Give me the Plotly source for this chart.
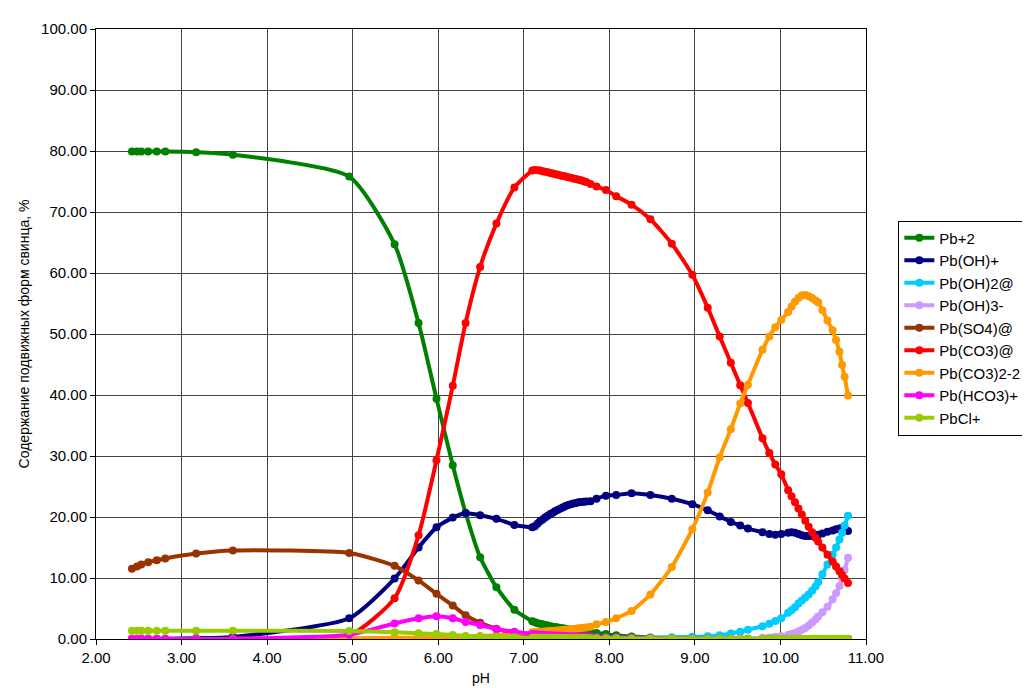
import plotly.graph_objects as go

ph = [2.42, 2.48, 2.53, 2.61, 2.71, 2.81, 3.17, 3.60, 4.96,
      5.49, 5.77, 5.98, 6.17, 6.32, 6.49, 6.68, 6.89, 7.10,
      7.13, 7.16, 7.19, 7.22, 7.25, 7.28, 7.31, 7.34, 7.37, 7.40, 7.43, 7.46, 7.49, 7.52, 7.55, 7.58, 7.61, 7.64, 7.67, 7.70, 7.73,
      7.78, 7.85, 7.96, 8.08, 8.26, 8.48, 8.73, 8.97, 9.15, 9.29, 9.42, 9.53, 9.62, 9.79, 9.87, 9.94, 10.01,
      10.09, 10.13, 10.17, 10.21, 10.25, 10.29, 10.33, 10.37, 10.41, 10.44, 10.49, 10.55, 10.61, 10.65, 10.69, 10.72, 10.75, 10.79]

pb2 = [79.9, 79.9, 79.9, 79.9, 79.9, 79.9, 79.8, 79.4, 75.8,
       64.7, 51.8, 39.4, 28.5, 20.7, 13.4, 8.5, 4.8, 2.9,
       2.75, 2.6, 2.5, 2.4, 2.3, 2.2, 2.1, 2.0, 1.95, 1.9, 1.8, 1.75, 1.7, 1.6, 1.55, 1.5, 1.45, 1.4, 1.35, 1.3, 1.25,
       1.15, 1.0, 0.8, 0.6, 0.4, 0.25, 0.15, 0.1, 0.07, 0.05, 0.04, 0.03, 0.02, 0.01, 0.01, 0.01, 0.01,
       0.01, 0.01, 0.01, 0.01, 0.01, 0.01, 0.01, 0.01, 0.01, 0.01, 0.01, 0.01, 0.01, 0.01, 0.01, 0.01, 0.01, 0.01]

pboh = [0.02, 0.02, 0.03, 0.03, 0.04, 0.05, 0.13, 0.35, 3.4,
        9.9, 15.0, 18.3, 19.9, 20.6, 20.3, 19.7, 18.7, 18.3,
        18.5, 18.9, 19.3, 19.6, 19.9, 20.2, 20.5, 20.7, 21.0, 21.2, 21.4, 21.6, 21.8, 21.95, 22.1, 22.2, 22.3, 22.4, 22.45, 22.5, 22.55,
        22.6, 23.0, 23.5, 23.6, 23.9, 23.6, 23.0, 22.1, 21.1, 20.1, 19.2, 18.6, 18.1, 17.5, 17.2, 17.1, 17.2,
        17.4, 17.5, 17.4, 17.2, 17.0, 16.9, 16.9, 16.9, 17.0, 17.1, 17.3, 17.6, 17.8, 18.0, 18.1, 18.2, 18.1, 17.7]

pboh2 = [0.0, 0.0, 0.0, 0.0, 0.0, 0.0, 0.0, 0.0, 0.0,
         0.0, 0.0, 0.01, 0.01, 0.01, 0.02, 0.02, 0.03, 0.04,
         0.04, 0.04, 0.04, 0.04, 0.05, 0.05, 0.05, 0.05, 0.05, 0.05, 0.06, 0.06, 0.06, 0.06, 0.06, 0.07, 0.07, 0.07, 0.07, 0.08, 0.08,
         0.08, 0.09, 0.1, 0.12, 0.15, 0.2, 0.28, 0.35, 0.45, 0.6, 0.9, 1.2, 1.5, 2.1, 2.5, 2.95, 3.4,
         4.3, 4.7, 5.2, 5.8, 6.3, 6.8, 7.3, 7.9, 8.6, 9.3, 10.6, 12.2, 13.8, 15.0, 16.3, 17.4, 18.6, 20.2]

pboh3 = [0.0, 0.0, 0.0, 0.0, 0.0, 0.0, 0.0, 0.0, 0.0,
         0.0, 0.0, 0.0, 0.0, 0.0, 0.0, 0.0, 0.0, 0.0,
         0.0, 0.0, 0.0, 0.0, 0.0, 0.0, 0.0, 0.0, 0.0, 0.0, 0.0, 0.0, 0.0, 0.0, 0.0, 0.0, 0.0, 0.0, 0.0, 0.0, 0.0,
         0.0, 0.0, 0.0, 0.0, 0.0, 0.0, 0.0, 0.01, 0.02, 0.03, 0.05, 0.08, 0.1, 0.2, 0.25, 0.35, 0.45,
         0.65, 0.8, 1.0, 1.25, 1.5, 1.8, 2.2, 2.7, 3.2, 3.7, 4.4, 5.3, 6.5, 7.5, 8.7, 10.0, 11.3, 13.3]

pbso4 = [11.5, 11.9, 12.2, 12.6, 12.9, 13.2, 14.0, 14.5, 14.1,
         12.0, 9.6, 7.4, 5.5, 3.9, 2.65, 1.7, 1.0, 0.6,
         0.57, 0.54, 0.51, 0.49, 0.46, 0.44, 0.42, 0.40, 0.38, 0.36, 0.35, 0.33, 0.32, 0.30, 0.29, 0.28, 0.27, 0.26, 0.25, 0.24, 0.23,
         0.22, 0.2, 0.17, 0.14, 0.1, 0.07, 0.05, 0.03, 0.02, 0.01, 0.01, 0.01, 0.0, 0.0, 0.0, 0.0, 0.0,
         0.0, 0.0, 0.0, 0.0, 0.0, 0.0, 0.0, 0.0, 0.0, 0.0, 0.0, 0.0, 0.0, 0.0, 0.0, 0.0, 0.0, 0.0]

pbco3 = [0.0, 0.0, 0.0, 0.0, 0.0, 0.0, 0.0, 0.02, 0.6,
         6.7, 17.0, 29.3, 41.5, 51.8, 61.0, 68.1, 74.0, 76.8,
         76.9, 76.85, 76.8, 76.7, 76.6, 76.5, 76.4, 76.3, 76.2, 76.1, 76.0, 75.9, 75.8, 75.7, 75.6, 75.5, 75.4, 75.3, 75.2, 75.05, 74.9,
         74.6, 74.2, 73.6, 72.6, 71.2, 68.8, 64.8, 59.7, 54.3, 49.6, 45.3, 41.6, 38.7, 32.9, 30.5, 28.6, 27.0,
         24.4, 23.4, 22.4, 21.4, 20.4, 19.4, 18.4, 17.5, 16.6, 16.0, 15.0, 13.8, 12.7, 11.9, 11.1, 10.5, 9.9, 9.2]

pbco32 = [0.0, 0.0, 0.0, 0.0, 0.0, 0.0, 0.0, 0.01, 0.1,
          0.2, 0.25, 0.3, 0.35, 0.4, 0.5, 0.6, 0.8, 1.1,
          1.12, 1.15, 1.18, 1.2, 1.23, 1.26, 1.3, 1.33, 1.37, 1.4, 1.44, 1.48, 1.52, 1.56, 1.6, 1.65, 1.7, 1.75, 1.8, 1.85, 1.9,
          2.0, 2.4, 2.8, 3.4, 4.6, 7.3, 11.8, 18.0, 24.0, 29.8, 34.4, 38.6, 41.7, 47.4, 49.6, 51.1, 52.3,
          53.6, 54.5, 55.3, 55.9, 56.3, 56.4, 56.2, 55.9, 55.5, 55.2, 53.9, 52.2, 50.6, 49.0, 47.1, 44.9, 43.0, 39.9]

pbhco3 = [0.0, 0.0, 0.0, 0.0, 0.0, 0.0, 0.01, 0.05, 0.7,
          2.55, 3.4, 3.75, 3.4, 2.8, 2.3, 1.6, 1.2, 0.8,
          0.77, 0.74, 0.71, 0.68, 0.66, 0.63, 0.61, 0.59, 0.57, 0.55, 0.53, 0.51, 0.49, 0.47, 0.46, 0.44, 0.43, 0.41, 0.40, 0.39, 0.38,
          0.36, 0.33, 0.3, 0.26, 0.2, 0.15, 0.1, 0.07, 0.05, 0.04, 0.03, 0.02, 0.02, 0.01, 0.01, 0.01, 0.01,
          0.01, 0.01, 0.01, 0.01, 0.01, 0.01, 0.01, 0.01, 0.01, 0.01, 0.01, 0.01, 0.01, 0.01, 0.01, 0.01, 0.01, 0.01]

pbcl = [1.35, 1.35, 1.35, 1.35, 1.35, 1.35, 1.35, 1.35, 1.3,
        1.1, 0.95, 0.8, 0.65, 0.5, 0.4, 0.35, 0.28, 0.22,
        0.21, 0.21, 0.2, 0.2, 0.2, 0.19, 0.19, 0.19, 0.18, 0.18, 0.18, 0.17, 0.17, 0.17, 0.16, 0.16, 0.16, 0.15, 0.15, 0.15, 0.15,
        0.14, 0.13, 0.12, 0.11, 0.1, 0.08, 0.07, 0.06, 0.05, 0.05, 0.04, 0.04, 0.04, 0.03, 0.03, 0.03, 0.03,
        0.03, 0.03, 0.03, 0.03, 0.03, 0.03, 0.03, 0.03, 0.03, 0.03, 0.03, 0.03, 0.03, 0.03, 0.03, 0.03, 0.03, 0.03]

names = ["Pb+2", "Pb(OH)+", "Pb(OH)2@", "Pb(OH)3-", "Pb(SO4)@",
         "Pb(CO3)@", "Pb(CO3)2-2", "Pb(HCO3)+", "PbCl+"]
series = [pb2, pboh, pboh2, pboh3, pbso4, pbco3, pbco32, pbhco3, pbcl]
colors = ["#008000", "#000080", "#00CCFF", "#CC99FF", "#993300",
          "#FF0000", "#FF9900", "#FF00FF", "#99CC00"]

fig = go.Figure()
for n, s, c in zip(names, series, colors):
    fig.add_trace(go.Scatter(
        x=ph, y=s, name=n, mode="lines+markers",
        line=dict(color=c, width=4, shape="spline", smoothing=0.6),
        marker=dict(color=c, size=8),
    ))

font = "Liberation Sans, Arial, sans-serif"
fig.update_layout(
    width=1030, height=688,
    margin=dict(l=88, r=156, t=20, b=54),
    paper_bgcolor="white", plot_bgcolor="white",
    font=dict(family=font, size=15, color="black"),
    legend=dict(x=1.042, y=0.686, xanchor="left", yanchor="top",
                bordercolor="black", borderwidth=1, bgcolor="white",
                font=dict(size=15), tracegroupgap=0, itemwidth=30),
    showlegend=True,
)
fig.update_xaxes(
    range=[2, 11], dtick=1, tick0=2, tickformat=".2f",
    showgrid=True, gridcolor="#444444", gridwidth=1,
    showline=True, linecolor="black", linewidth=1, mirror=True,
    ticks="outside", ticklen=5, tickcolor="black",
    tickfont=dict(size=15), zeroline=False,
    title=dict(text="pH", font=dict(size=14), standoff=8),
)
fig.update_yaxes(
    range=[0, 100], dtick=10, tickformat=".2f",
    showgrid=True, gridcolor="#444444", gridwidth=1,
    showline=True, linecolor="black", linewidth=1, mirror=True,
    ticks="outside", ticklen=5, tickcolor="black",
    tickfont=dict(size=15), zeroline=False,
    title=dict(text="Содержание подвижных форм свинца, %", font=dict(size=14), standoff=8),
)

fig.write_html("out.html")
